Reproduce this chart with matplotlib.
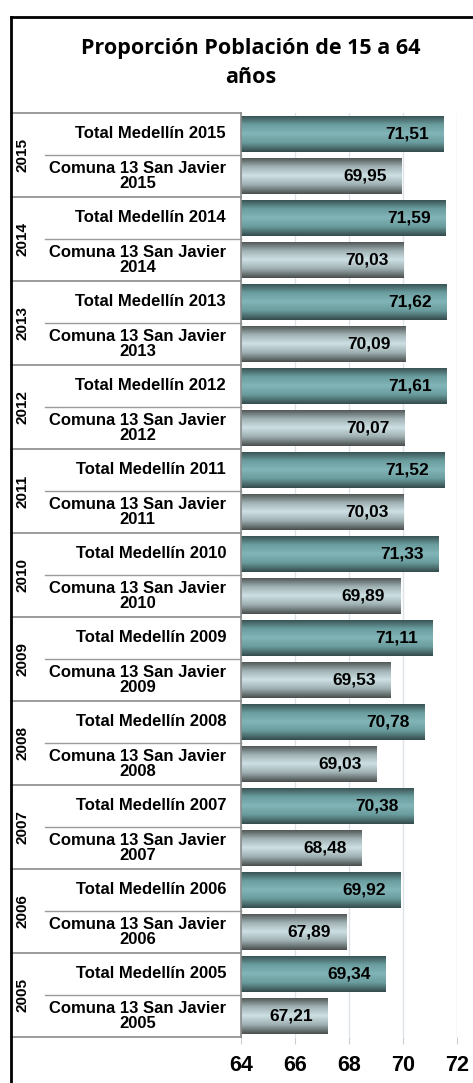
import numpy as np
import matplotlib
matplotlib.use('Agg')
import matplotlib.pyplot as plt
from matplotlib.colors import LinearSegmentedColormap
from matplotlib.lines import Line2D
from matplotlib.transforms import blended_transform_factory

years = [2015, 2014, 2013, 2012, 2011, 2010, 2009, 2008, 2007, 2006, 2005]
medellin = [71.51, 71.59, 71.62, 71.61, 71.52, 71.33, 71.11, 70.78, 70.38, 69.92, 69.34]
comuna = [69.95, 70.03, 70.09, 70.07, 70.03, 69.89, 69.53, 69.03, 68.48, 67.89, 67.21]
x_ticks = [64, 66, 68, 70, 72]
title = 'Proporción Población de 15 a 64\naños'

W, H = 473, 1083
fig = plt.figure(figsize=(W / 100, H / 100), dpi=100)
fig.patch.set_facecolor('white')

# posición del área de trazado (en píxeles del original)
left_px, right_px, top_px, bot_px = 241, 457, 113, 1037
ax = fig.add_axes([left_px / W, 1 - bot_px / H, (right_px - left_px) / W, (bot_px - top_px) / H])

n = len(years)
y_med = np.arange(n) * 2
y_com = y_med + 1
bar_h = 0.88

cmap_teal = LinearSegmentedColormap.from_list('teal', ['#354c4d', '#6a9c9e', '#82b5b7', '#6a9c9e', '#354c4d'])
cmap_gray = LinearSegmentedColormap.from_list('gray', ['#4a4f4f', '#9fb0b2', '#cde0e3', '#9fb0b2', '#4a4f4f'])
grad = np.linspace(0, 1, 64).reshape(-1, 1)

ax.set_xlim(x_ticks[0], x_ticks[-1])
ax.set_ylim(2 * n - 0.5, -0.5)

for ys, vals, cmap, in [(y_med, medellin, cmap_teal), (y_com, comuna, cmap_gray)]:
    bars = ax.barh(ys, vals, height=bar_h, color='none', edgecolor='none', zorder=2)
    for b, v, y in zip(bars, vals, ys):
        im = ax.imshow(grad, cmap=cmap, aspect='auto', zorder=2,
                       extent=[x_ticks[0], v, y + bar_h / 2, y - bar_h / 2])
        im.set_clip_path(b)
        ax.text(v - 0.55, y, f'{v:.2f}'.replace('.', ','), ha='right', va='center',
                fontsize=12.5, fontweight='bold', family='Liberation Sans', zorder=3)

ax.set_xlim(x_ticks[0], x_ticks[-1])
ax.set_ylim(2 * n - 0.5, -0.5)
ax.set_xticks(x_ticks)
ax.set_xticklabels([str(t) for t in x_ticks], fontsize=15.5, fontweight='bold', family='Liberation Sans')
ax.tick_params(axis='x', length=5, color='#c8cfd2', pad=8)
ax.set_yticks([])
ax.grid(axis='x', color='#dde3e6', lw=1, zorder=0)
ax.set_axisbelow(True)
for s in ['top', 'right', 'bottom']:
    ax.spines[s].set_visible(False)
ax.spines['left'].set_color('#8a8a8a')
ax.spines['left'].set_linewidth(1.2)

# etiquetas de categorías
tr = blended_transform_factory(fig.transFigure, ax.transData)
for yr, y1, y2 in zip(years, y_med, y_com):
    ax.text(226 / W, y1, f'Total Medellín {yr}', transform=tr, ha='right', va='center',
            fontsize=12, fontweight='bold', family='Liberation Sans', clip_on=False)
    ax.text(226 / W, y2, f'Comuna 13 San Javier\n{yr}', transform=tr, ha='right', va='center',
            multialignment='center', fontsize=12, fontweight='bold', family='Liberation Sans',
            linespacing=1.0, clip_on=False)
    ax.text(22 / W, y1 + 0.5, str(yr), transform=tr, ha='center', va='center', rotation=90,
            fontsize=11, fontweight='bold', family='Liberation Sans', clip_on=False)
    # separadores
    ax.add_line(Line2D([45 / W, left_px / W], [y1 + 0.5, y1 + 0.5], transform=tr,
                       color='#9a9a9a', lw=1, clip_on=False))
for yb in list(y_med - 0.5) + [2 * n - 0.5]:
    ax.add_line(Line2D([11 / W, left_px / W], [yb, yb], transform=tr,
                       color='#8a8a8a', lw=1.2, clip_on=False))

# título y borde
fig.text(251 / W, 1 - 63 / H, title, ha='center', va='center', fontsize=15.5,
         fontweight='bold', family='Open Sans', linespacing=1.55)
fig.add_artist(Line2D([11 / W, 11 / W], [0, 1 - 17 / H], transform=fig.transFigure, color='black', lw=2))
fig.add_artist(Line2D([11 / W, 1], [1 - 17 / H, 1 - 17 / H], transform=fig.transFigure, color='black', lw=2))

fig.savefig('out.png', dpi=100)
